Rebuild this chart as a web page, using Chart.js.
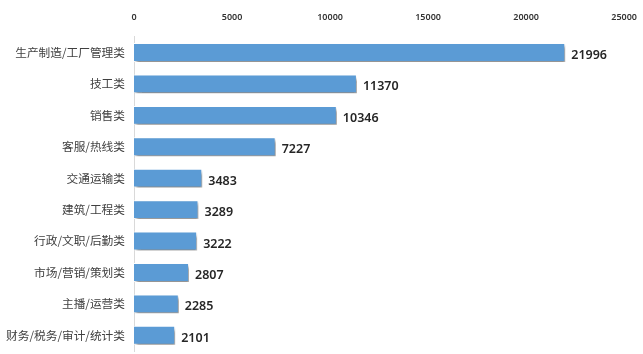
<!DOCTYPE html>
<html lang="zh">
<head>
    <meta charset="UTF-8">
    <title>职位类别</title>
    <script src="https://cdn.jsdelivr.net/npm/chart.js@4/dist/chart.umd.min.js"></script>
    <style>
        body { margin: 0; background: #fff; }
        .wrap { position: relative; width: 643px; height: 354px; }
    </style>
</head>
<body>
    <div class="wrap"><canvas id="chart"></canvas></div>
    <script>
        const categories = ['生产制造/工厂管理类', '技工类', '销售类', '客服/热线类', '交通运输类',
            '建筑/工程类', '行政/文职/后勤类', '市场/营销/策划类', '主播/运营类', '财务/税务/审计/统计类'];
        const counts = [21996, 11370, 10346, 7227, 3483, 3289, 3222, 2807, 2285, 2101];
        const xTicks = [0, 5000, 10000, 15000, 20000, 25000];

        // shadow under the bars
        const shadowPlugin = {
            id: 'barShadow',
            beforeDatasetsDraw(chart) {
                const ctx = chart.ctx;
                ctx.save();
                ctx.shadowColor = 'rgba(0,0,0,0.45)';
                ctx.shadowBlur = 3;
                ctx.shadowOffsetX = 2;
                ctx.shadowOffsetY = 3;
            },
            afterDatasetsDraw(chart) {
                chart.ctx.restore();
            }
        };

        // value labels at the bar ends
        const valueLabels = {
            id: 'valueLabels',
            afterDraw(chart) {
                const ctx = chart.ctx;
                const meta = chart.getDatasetMeta(0);
                ctx.save();
                ctx.font = '600 12.5px "Noto Sans", sans-serif';
                ctx.fillStyle = '#262626';
                ctx.textAlign = 'left';
                ctx.textBaseline = 'middle';
                meta.data.forEach((bar, i) => {
                    ctx.fillText(counts[i], bar.x + 6, bar.y + 3);
                });
                ctx.restore();
            }
        };

        new Chart(document.getElementById('chart'), {
            type: 'bar',
            data: {
                labels: categories,
                datasets: [{
                    data: counts,
                    backgroundColor: '#5b9bd5',
                    borderColor: '#ffffff',
                    borderWidth: 1,
                    barPercentage: 0.6,
                    categoryPercentage: 1
                }]
            },
            options: {
                indexAxis: 'y',
                responsive: true,
                maintainAspectRatio: false,
                animation: false,
                layout: { padding: { top: 6, right: 8, bottom: 3, left: 0 } },
                plugins: {
                    legend: { display: false },
                    tooltip: { enabled: false }
                },
                scales: {
                    x: {
                        position: 'top',
                        min: 0,
                        max: 25000,
                        afterBuildTicks(axis) {
                            axis.ticks = xTicks.map(v => ({ value: v }));
                        },
                        grid: { display: false },
                        border: { display: false },
                        ticks: {
                            color: '#333',
                            padding: 6,
                            maxRotation: 0,
                            callback: v => String(v),
                            font: { family: '"Noto Sans", sans-serif', size: 9, weight: '600' }
                        }
                    },
                    y: {
                        afterFit(axis) {
                            axis.width = 134;
                            axis.paddingTop = 0;
                            axis.paddingBottom = 0;
                        },
                        grid: { display: false, drawTicks: false },
                        border: { display: true, color: '#d9d9d9', width: 1 },
                        ticks: {
                            color: '#404040',
                            padding: 9,
                            font: { family: '"Noto Sans CJK SC", sans-serif', size: 11.7 }
                        }
                    }
                }
            },
            plugins: [shadowPlugin, valueLabels]
        });
    </script>
</body>
</html>
